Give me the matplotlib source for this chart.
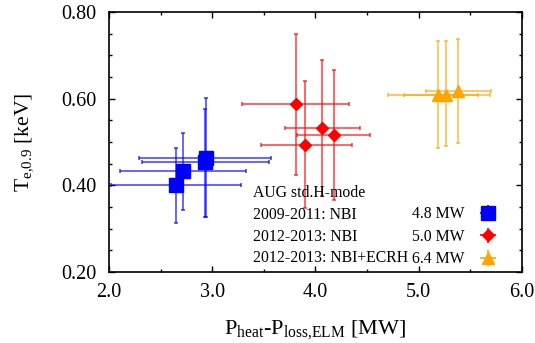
import numpy as np
import matplotlib.pyplot as plt
from matplotlib.ticker import MultipleLocator

plt.rcParams['font.family'] = ['Liberation Serif', 'DejaVu Serif']
plt.rcParams['mathtext.fontset'] = 'custom'
plt.rcParams['mathtext.rm'] = 'Liberation Serif'

# 2009-2011: NBI
nbi1_x = np.array([2.65, 2.72, 2.93, 2.94])
nbi1_xlo = np.array([2.02, 2.11, 2.32, 2.29])
nbi1_xhi = np.array([3.28, 3.33, 3.55, 3.57])
nbi1_y = np.array([0.400, 0.432, 0.455, 0.462])
nbi1_ylo = np.array([0.313, 0.342, 0.327, 0.328])
nbi1_yhi = np.array([0.487, 0.521, 0.577, 0.601])

# 2012-2013: NBI
nbi2_x = np.array([3.81, 4.065, 4.18, 3.90])
nbi2_xlo = np.array([3.29, 3.70, 3.82, 3.47])
nbi2_xhi = np.array([4.32, 4.43, 4.53, 4.35])
nbi2_y = np.array([0.587, 0.533, 0.516, 0.493])
nbi2_ylo = np.array([0.423, 0.376, 0.366, 0.348])
nbi2_yhi = np.array([0.749, 0.690, 0.666, 0.640])

# 2012-2013: NBI+ECRH
ecrh_x = np.array([5.19, 5.26, 5.385])
ecrh_xlo = np.array([4.70, 4.86, 5.07])
ecrh_xhi = np.array([5.69, 5.57, 5.70])
ecrh_y = np.array([0.609, 0.609, 0.617])
ecrh_ylo = np.array([0.487, 0.491, 0.498])
ecrh_yhi = np.array([0.732, 0.732, 0.737])

header = 'AUG std.H-mode'
periods = ['2009-2011: NBI', '2012-2013: NBI', '2012-2013: NBI+ECRH']
powers = ['4.8 MW', '5.0 MW', '6.4 MW']

fig = plt.figure(figsize=(5.35, 3.43), dpi=100)
ax = fig.add_axes([0.2037, 0.207, 0.7720, 0.758])

series = [
    (nbi1_x, nbi1_xlo, nbi1_xhi, nbi1_y, nbi1_ylo, nbi1_yhi, 's', 9.4, 'blue'),
    (nbi2_x, nbi2_xlo, nbi2_xhi, nbi2_y, nbi2_ylo, nbi2_yhi, 'D', 6.6, 'red'),
    (ecrh_x, ecrh_xlo, ecrh_xhi, ecrh_y, ecrh_ylo, ecrh_yhi, '^', 8.8, 'orange'),
]
handles = []
for x, xlo, xhi, y, ylo, yhi, m, ms, c in series:
    ax.errorbar(x, y, xerr=[x - xlo, xhi - x], yerr=[y - ylo, yhi - y],
                fmt='none', ecolor=c, elinewidth=1.3, capsize=1.6,
                capthick=1.3, alpha=0.65, zorder=2)
    ax.plot(x, y, m, ms=ms, color=c, mec=c, zorder=3)
    h = ax.errorbar([], [], xerr=[], yerr=[], fmt=m, ms=ms, color=c,
                    ecolor=c, elinewidth=1.2, capsize=1.6, capthick=1.2)
    handles.append(h)

ax.set_xlim(2.0, 6.0)
ax.set_ylim(0.2, 0.8)
ax.xaxis.set_major_locator(MultipleLocator(1.0))
ax.xaxis.set_minor_locator(MultipleLocator(0.5))
ax.yaxis.set_major_locator(MultipleLocator(0.2))
ax.yaxis.set_minor_locator(MultipleLocator(0.05))
ax.xaxis.set_major_formatter('{x:.1f}')
ax.yaxis.set_major_formatter('{x:.2f}')
ax.tick_params(which='both', direction='in', top=True, right=True,
               labelsize=14.5, width=1.0)
ax.tick_params(axis='x', which='major', length=4, pad=8)
ax.tick_params(axis='y', which='major', length=4, pad=9)
ax.tick_params(which='minor', length=2.5)
for s in ax.spines.values():
    s.set_linewidth(1.2)

ax.set_xlabel(r'P$_{\rm heat}$-P$_{\rm loss{,}ELM}$ [MW]', fontsize=16, labelpad=12)
ax.set_ylabel(r'T$_{\rm e{,}0.9}$ [keV]', fontsize=15.5, labelpad=18)

leg = ax.legend(handles, powers, loc='lower right', bbox_to_anchor=(0.975, -0.037),
                frameon=False, markerfirst=False, fontsize=11.3,
                handlelength=1.2, handletextpad=0.9, labelspacing=0.42)

ax.text(0.349, 0.303, header, transform=ax.transAxes, fontsize=11.3, va='center')
for yy, txt in zip([0.219, 0.136, 0.055], periods):
    ax.text(0.349, yy, txt, transform=ax.transAxes, fontsize=11.3, va='center')

fig.savefig('out.png', dpi=100)
